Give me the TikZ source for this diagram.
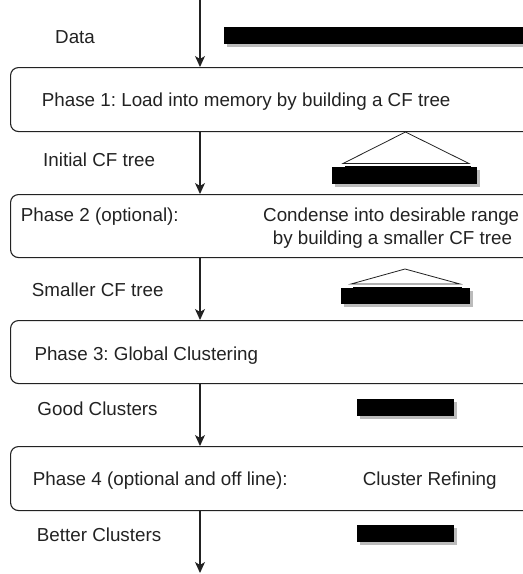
\documentclass[tikz,border=0pt]{standalone}
\usepackage{fontspec}
\setmainfont{Liberation Sans}
\usetikzlibrary{arrows.meta}
\frenchspacing
\definecolor{ink}{HTML}{222222}
\definecolor{shade}{HTML}{BBBBBB}
\begin{document}
\begin{tikzpicture}[x=1pt,y=-1pt,
  phase/.style={draw=ink,line width=1.1pt,rounded corners=8pt,minimum width=540pt,anchor=north west,inner sep=0pt},
  lbl/.style={anchor=base west,inner sep=0pt,text=ink,font=\fontsize{18.8}{21}\selectfont},
  flow/.style={draw=ink,line width=1.2pt,-{Stealth[length=11pt,width=10pt,inset=3pt]}},
  bar/.style={fill=black},
  barshadow/.style={fill=shade},
  tri/.style={draw=ink,line width=0.8pt,fill=white}]
\useasboundingbox (0,0) rectangle (523,574);
\clip (0,0) rectangle (523,574);

% phase boxes
\node[phase,minimum height=64pt] (p1) at (10,67) {};
\node[phase,minimum height=63pt] (p2) at (10,194) {};
\node[phase,minimum height=63pt] (p3) at (10,320) {};
\node[phase,minimum height=64pt] (p4) at (10,446) {};

% flow arrows
\coordinate (top) at (200,0);
\coordinate (bottom) at (200,573);
\draw[flow] (top) -- (top |- p1.north);
\draw[flow] (top |- p1.south) -- (top |- p2.north);
\draw[flow] (top |- p2.south) -- (top |- p3.north);
\draw[flow] (top |- p3.south) -- (top |- p4.north);
\draw[flow] (top |- p4.south) -- (bottom);

% labels
\node[lbl] (ldata) at (55,43.5) {Data};
\node[lbl] (t1) at (41.7,106.5) {Phase 1: Load into memory by building a CF tree};
\node[lbl] (linit) at (43,166.5) {Initial CF tree};
\node[lbl] (t2a) at (20.7,221.5) {Phase 2 (optional):};
\node[lbl] (t2b) at (263,221.5) {Condense into desirable range};
\node[lbl,anchor=base] (t2c) at (392.5,244) {by building a smaller CF tree};
\node[lbl] (lsmall) at (31.7,296) {Smaller CF tree};
\node[lbl] (t3) at (34.3,360) {Phase 3: Global Clustering};
\node[lbl] (lgood) at (37.3,415) {Good Clusters};
\node[lbl] (t4a) at (32.7,485.7) {Phase 4 (optional and off line):};
\node[lbl] (t4b) at (362.7,485.7) {Cluster Refining};
\node[lbl] (lbetter) at (36.7,541) {Better Clusters};

% data bar
\fill[barshadow] (227,30) rectangle (530,47);
\fill[bar] (224,27) rectangle (530,44);

% initial CF tree
\draw[shade,line width=0.8pt] (345,166) -- (471,166);
\draw[tri] (343,163.5) -- (405.5,132) -- (469,163.5) -- cycle;
\fill[barshadow] (335,170) rectangle (480,187);
\fill[bar] (332,167) rectangle (477,183.5);

% smaller CF tree
\draw[shade,line width=0.8pt] (353,287) -- (462,287);
\draw[tri] (351,284) -- (405,269) -- (460,284) -- cycle;
\fill[barshadow] (344,291) rectangle (473,307);
\fill[bar] (341,288) rectangle (470,304);

% good clusters
\fill[barshadow] (360,402) rectangle (457,419);
\fill[bar] (357,399) rectangle (454,416);

% better clusters
\fill[barshadow] (360,528) rectangle (457,545);
\fill[bar] (357,525) rectangle (454,542);
\end{tikzpicture}
\end{document}
